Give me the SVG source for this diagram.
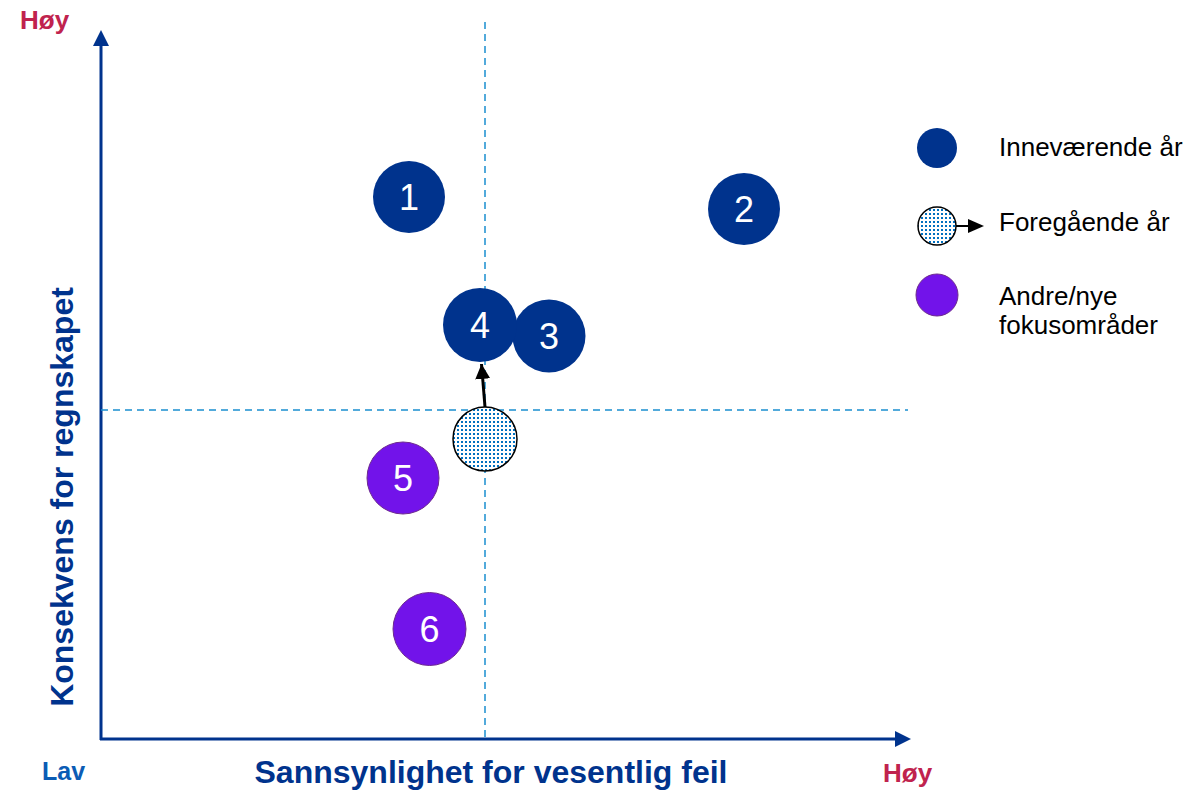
<svg xmlns="http://www.w3.org/2000/svg" width="1199" height="790" viewBox="0 0 1199 790">
<style>
.ax{stroke:#00338D;stroke-width:3;fill:none}
.dash{stroke:#1a8fd0;stroke-width:1.5;stroke-dasharray:7,5;fill:none}
.cur{fill:#00338D}
.new{fill:#7213EA;stroke:#6d2a8f;stroke-width:1}
.prev{fill:url(#dots);stroke:#000;stroke-width:1.5}
.num{font-family:"Liberation Sans",Arial,sans-serif;font-size:36px;fill:#fff;text-anchor:middle}
.leg{font-family:"Liberation Sans",Arial,sans-serif;font-size:26px;fill:#000}
.hoy{font-family:"Liberation Sans",Arial,sans-serif;font-size:26px;font-weight:bold;fill:#C0234E}
.lav{font-family:"Liberation Sans",Arial,sans-serif;font-size:25px;font-weight:bold;fill:#0b5cb5}
.axl{font-family:"Liberation Sans",Arial,sans-serif;font-size:32px;font-weight:bold;fill:#00338D;text-anchor:middle}
</style>
<defs>
<pattern id="dots" width="4" height="4" patternUnits="userSpaceOnUse">
<rect width="4" height="4" fill="#fff"/>
<rect x="1" y="1" width="2" height="2" fill="#0070c0"/>
</pattern>
<marker id="ah" viewBox="0 0 10 10" refX="10" refY="5" markerWidth="5" markerHeight="5" orient="auto" markerUnits="strokeWidth">
<path d="M0,0 L10,5 L0,10 z" fill="#000"/>
</marker>
</defs>
<g id="axes">
<line class="ax" x1="101" y1="740" x2="101" y2="44"/>
<polygon points="101,30 93,46 109,46" fill="#00338D"/>
<line class="ax" x1="100" y1="739" x2="896" y2="739"/>
<polygon points="911,739 895,731 895,747" fill="#00338D"/>
<line class="dash" x1="485" y1="22" x2="485" y2="740"/>
<line class="dash" x1="101" y1="410" x2="908" y2="410"/>
</g>
<g id="labels">
<text class="hoy" x="20" y="29">Høy</text>
<text class="lav" x="42" y="780">Lav</text>
<text class="hoy" x="883" y="782">Høy</text>
<text class="axl" x="491" y="783">Sannsynlighet for vesentlig feil</text>
<text class="axl" transform="translate(73,497) rotate(-90)">Konsekvens for regnskapet</text>
</g>
<g id="node-prev">
<circle class="prev" cx="485" cy="439" r="32"/>
</g>
<g id="connectors">
<line x1="485" y1="407" x2="481.5" y2="364" stroke="#000" stroke-width="3" marker-end="url(#ah)"/>
</g>
<g id="node-1"><circle class="cur" cx="409" cy="197" r="36"/><text class="num" x="409" y="210">1</text></g>
<g id="node-2"><circle class="cur" cx="744" cy="209" r="36"/><text class="num" x="744" y="222">2</text></g>
<g id="node-3"><circle class="cur" cx="549" cy="336" r="36.5"/><text class="num" x="549" y="349">3</text></g>
<g id="node-4"><circle class="cur" cx="480" cy="325" r="37"/><text class="num" x="480" y="338">4</text></g>
<g id="node-5"><circle class="new" cx="403" cy="478" r="36"/><text class="num" x="403" y="491">5</text></g>
<g id="node-6"><circle class="new" cx="429.5" cy="629" r="36.5"/><text class="num" x="429.5" y="642">6</text></g>
<g id="legend">
<circle class="cur" cx="937" cy="148" r="20"/>
<text class="leg" x="999" y="156">Inneværende år</text>
<circle class="prev" cx="937" cy="226" r="19"/>
<line x1="956" y1="226" x2="970" y2="226" stroke="#000" stroke-width="2"/>
<polygon points="984,226 968,219 968,233" fill="#000"/>
<text class="leg" x="999" y="231">Foregående år</text>
<circle class="new" cx="937" cy="295" r="21"/>
<text class="leg" x="999" y="305">Andre/nye</text>
<text class="leg" x="999" y="334">fokusområder</text>
</g>
</svg>
